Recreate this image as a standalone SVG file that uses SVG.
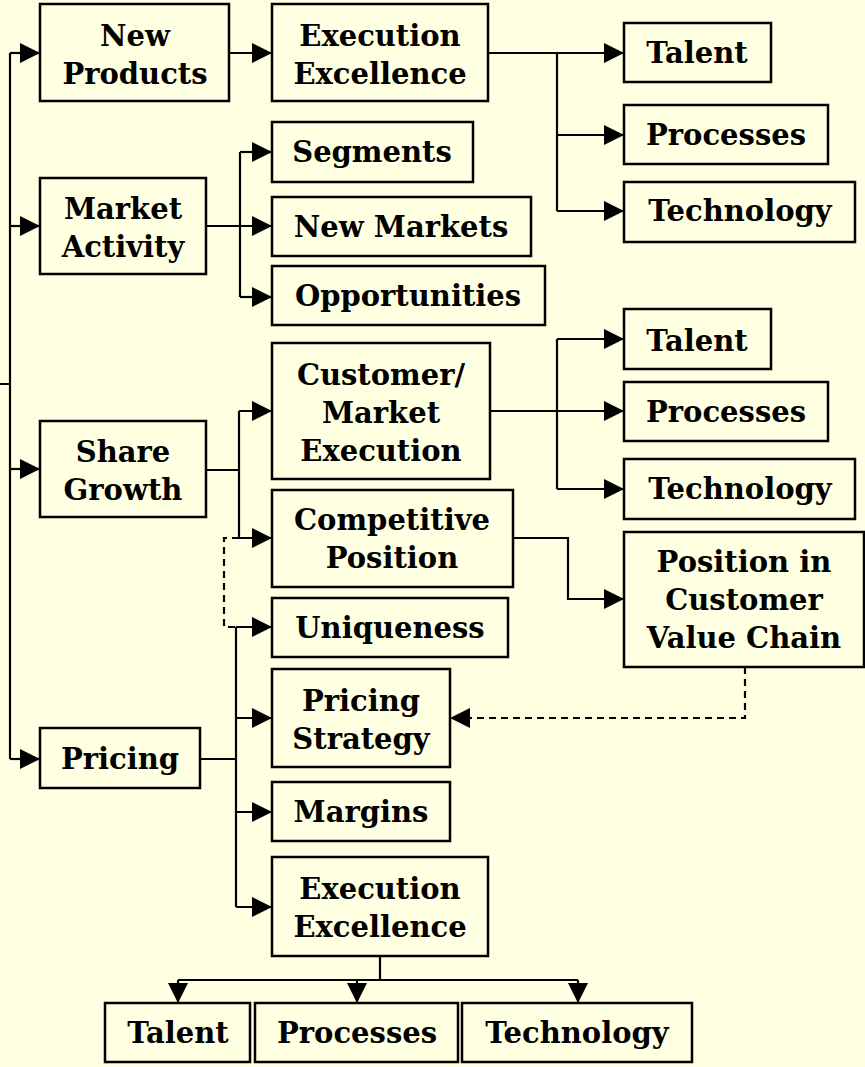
<svg xmlns="http://www.w3.org/2000/svg" width="865" height="1067" viewBox="0 0 865 1067">
<style>
.n rect{fill:#FFFFE1;stroke:#000;stroke-width:2.5}
.n text{font-family:"DejaVu Serif","Liberation Serif",serif;font-weight:bold;font-size:29px;text-anchor:middle;fill:#000}
.c path{fill:none;stroke:#000;stroke-width:2.2}
.c .d{stroke-dasharray:7 5}
</style>
<defs>
<marker id="ah" markerUnits="userSpaceOnUse" markerWidth="20" markerHeight="20" refX="20" refY="10" orient="auto"><path d="M0,0 L20,10 L0,20 z" fill="#000"/></marker>
</defs>
<rect width="865" height="1067" fill="#FFFFE1"/>
<g class="c">
<path d="M10,53 V759 M0,384 H10"/>
<path d="M10,53 H40" marker-end="url(#ah)"/>
<path d="M10,226 H40" marker-end="url(#ah)"/>
<path d="M10,469 H40" marker-end="url(#ah)"/>
<path d="M10,759 H40" marker-end="url(#ah)"/>
<path d="M229,53 H272" marker-end="url(#ah)"/>
<path d="M488,53 H624" marker-end="url(#ah)"/>
<path d="M557,53 V211"/>
<path d="M557,135 H624" marker-end="url(#ah)"/>
<path d="M557,211 H624" marker-end="url(#ah)"/>
<path d="M206,226 H272" marker-end="url(#ah)"/>
<path d="M240,152 V297"/>
<path d="M240,152 H272" marker-end="url(#ah)"/>
<path d="M240,297 H272" marker-end="url(#ah)"/>
<path d="M206,470 H239 M239,411 V538"/>
<path d="M239,411 H272" marker-end="url(#ah)"/>
<path d="M239,538 H272" marker-end="url(#ah)"/>
<path d="M490,411 H624" marker-end="url(#ah)"/>
<path d="M557,339 V489"/>
<path d="M557,339 H624" marker-end="url(#ah)"/>
<path d="M557,489 H624" marker-end="url(#ah)"/>
<path d="M513,538 H568 V599 H624" marker-end="url(#ah)"/>
<path class="d" d="M239,538 H224 V627 H236"/>
<path class="d" d="M745,667 V718 H450" marker-end="url(#ah)"/>
<path d="M200,759 H236 M236,627 V907"/>
<path d="M236,627 H272" marker-end="url(#ah)"/>
<path d="M236,718 H272" marker-end="url(#ah)"/>
<path d="M236,812 H272" marker-end="url(#ah)"/>
<path d="M236,907 H272" marker-end="url(#ah)"/>
<path d="M380,956 V980 M178,980 H578"/>
<path d="M178,980 V1003" marker-end="url(#ah)"/>
<path d="M357,980 V1003" marker-end="url(#ah)"/>
<path d="M578,980 V1003" marker-end="url(#ah)"/>
</g>
<g id="new-products" class="n"><rect x="40" y="4" width="189" height="97"/><text x="135" y="46">New</text><text x="135" y="84">Products</text></g>
<g id="exec-excellence-1" class="n"><rect x="272" y="4" width="216" height="97"/><text x="380" y="46">Execution</text><text x="380" y="84">Excellence</text></g>
<g id="talent-1" class="n"><rect x="624" y="23" width="147" height="59"/><text x="697" y="63">Talent</text></g>
<g id="processes-1" class="n"><rect x="624" y="105" width="204" height="59"/><text x="726" y="145">Processes</text></g>
<g id="technology-1" class="n"><rect x="624" y="182" width="231" height="60"/><text x="740" y="221">Technology</text></g>
<g id="market-activity" class="n"><rect x="40" y="178" width="166" height="96"/><text x="123" y="219">Market</text><text x="123" y="257">Activity</text></g>
<g id="segments" class="n"><rect x="272" y="122" width="201" height="60"/><text x="372" y="162">Segments</text></g>
<g id="new-markets" class="n"><rect x="272" y="197" width="259" height="59"/><text x="401" y="237">New Markets</text></g>
<g id="opportunities" class="n"><rect x="272" y="266" width="273" height="59"/><text x="408" y="306">Opportunities</text></g>
<g id="share-growth" class="n"><rect x="40" y="421" width="166" height="96"/><text x="123" y="462">Share</text><text x="123" y="500">Growth</text></g>
<g id="customer-market-execution" class="n"><rect x="272" y="343" width="218" height="136"/><text x="381" y="385">Customer/</text><text x="381" y="423">Market</text><text x="381" y="461">Execution</text></g>
<g id="talent-2" class="n"><rect x="624" y="309" width="147" height="60"/><text x="697" y="351">Talent</text></g>
<g id="processes-2" class="n"><rect x="624" y="382" width="204" height="59"/><text x="726" y="422">Processes</text></g>
<g id="technology-2" class="n"><rect x="624" y="459" width="231" height="60"/><text x="740" y="499">Technology</text></g>
<g id="competitive-position" class="n"><rect x="272" y="490" width="241" height="97"/><text x="392" y="530">Competitive</text><text x="392" y="568">Position</text></g>
<g id="position-cvc" class="n"><rect x="624" y="532" width="240" height="135"/><text x="744" y="572">Position in</text><text x="744" y="610">Customer</text><text x="744" y="648">Value Chain</text></g>
<g id="uniqueness" class="n"><rect x="272" y="598" width="236" height="59"/><text x="390" y="638">Uniqueness</text></g>
<g id="pricing-strategy" class="n"><rect x="272" y="669" width="178" height="98"/><text x="361" y="711">Pricing</text><text x="361" y="749">Strategy</text></g>
<g id="pricing" class="n"><rect x="40" y="728" width="160" height="60"/><text x="120" y="769">Pricing</text></g>
<g id="margins" class="n"><rect x="272" y="782" width="178" height="59"/><text x="361" y="822">Margins</text></g>
<g id="exec-excellence-2" class="n"><rect x="272" y="857" width="216" height="99"/><text x="380" y="899">Execution</text><text x="380" y="937">Excellence</text></g>
<g id="talent-3" class="n"><rect x="105" y="1003" width="145" height="59"/><text x="178" y="1043">Talent</text></g>
<g id="processes-3" class="n"><rect x="255" y="1003" width="203" height="59"/><text x="357" y="1043">Processes</text></g>
<g id="technology-3" class="n"><rect x="462" y="1003" width="230" height="59"/><text x="577" y="1043">Technology</text></g>
</svg>
